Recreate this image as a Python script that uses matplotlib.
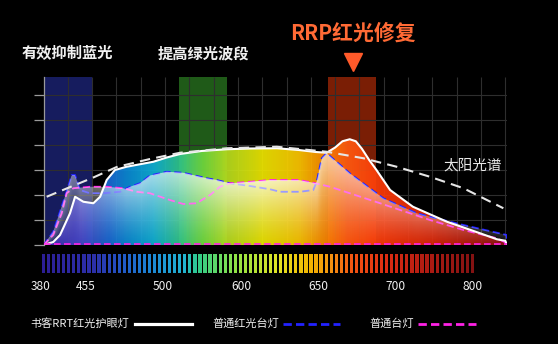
# spectrum comparison chart: RRT lamp vs normal lamps vs sunlight
import matplotlib
matplotlib.use('Agg')
import matplotlib.pyplot as plt
import numpy as np
from matplotlib.colors import LinearSegmentedColormap
from matplotlib.lines import Line2D

plt.rcParams['font.family'] = ['Noto Sans CJK SC', 'DejaVu Sans']

# data (x in grid units along the plot, y in grid units)
rrt_x = [0, 0.4, 0.68, 1.09, 1.3, 1.64, 2.05, 2.33, 2.6, 2.94, 3.42, 4.52, 5.07, 5.62,
         6.5, 7.54, 8.5, 9.6, 10.5, 11.2, 11.65, 12.0, 12.3, 12.6, 12.85, 13.1, 13.4,
         13.7, 14.26, 15.2, 16.6, 17.96, 18.65, 19.0, 19.07]
rrt_y = [0, 0.12, 0.4, 1.27, 1.93, 1.73, 1.67, 1.93, 2.6, 3.0, 3.13, 3.33, 3.5, 3.64,
         3.76, 3.83, 3.86, 3.87, 3.8, 3.72, 3.69, 3.9, 4.15, 4.23, 4.15, 3.85, 3.4,
         3.0, 2.2, 1.53, 0.93, 0.47, 0.23, 0.17, 0.0]

red_x = [0, 0.4, 0.88, 1.16, 1.3, 1.5, 1.91, 2.46, 3.15, 3.56, 3.97, 4.38, 5.07, 5.75,
         6.72, 7.13, 7.67, 8.5, 9.32, 9.73, 10.56, 11.1, 11.24, 11.45, 11.65, 12.6,
         13.98, 15.36, 15.9, 17.28, 19.06, 19.07]
red_y = [0, 0.53, 1.93, 2.8, 2.8, 2.2, 2.07, 2.07, 2.13, 2.33, 2.47, 2.78, 2.93, 2.89,
         2.67, 2.6, 2.47, 2.36, 2.23, 2.13, 2.13, 2.2, 2.53, 3.47, 3.67, 2.87,
         1.87, 1.27, 1.13, 0.8, 0.4, 0.0]

norm_x = [0, 0.4, 0.75, 0.95, 1.23, 1.91, 2.6, 3.28, 3.83, 4.38, 5.2, 5.75, 6.3, 6.85,
          7.26, 7.67, 8.5, 9.32, 10.5, 11.1, 11.79, 13.85, 15.9, 17.28, 18.65, 19.07]
norm_y = [0, 0.4, 1.27, 2.07, 2.27, 2.33, 2.33, 2.27, 2.13, 2.07, 1.8, 1.64, 1.67, 2.0,
          2.33, 2.47, 2.53, 2.6, 2.6, 2.49, 2.33, 1.67, 1.0, 0.6, 0.27, 0.07]

sun_x = [0.13, 0.95, 2.05, 3.01, 4.38, 5.62, 7.54, 9.6, 11.65, 13.16, 14.53, 15.9, 17.28, 18.92]
sun_y = [1.93, 2.26, 2.7, 3.12, 3.44, 3.69, 3.87, 3.93, 3.73, 3.47, 3.13, 2.73, 2.27, 1.47]

# highlighted bands (x start, x end)
bands = [(0, 2.0), (5.58, 7.54), (11.7, 13.67)]
band_colors = ['#161c5e', '#1f5a18', '#7a1e05']

tick_labels = ['380', '455', '500', '600', '650', '700', '800']
tick_pos = [0.0, 0.104, 0.281, 0.461, 0.638, 0.818, 0.995]
n_stripes = 86

legend_labels = ['书客RRT红光护眼灯', '普通红光台灯', '普通台灯']

XMAX, YMAX = 19.07, 6.72

fig = plt.figure(figsize=(5.58, 3.44), dpi=100, facecolor='black')
ax = fig.add_axes([43.5 / 558, 99 / 344, 463.5 / 558, 168 / 344])
ax.set_facecolor('black')
ax.set_xlim(0, XMAX)
ax.set_ylim(0, YMAX)

# bands
for (b0, b1), c in zip(bands, band_colors):
    ax.axvspan(b0, b1, color=c, zorder=0.5, lw=0)

# grid
ax.vlines(np.arange(1, 20), 0, YMAX, color='#2e2e2e', lw=0.8, zorder=1)
ax.hlines(np.arange(1, 7), 0, XMAX, color='#2e2e2e', lw=0.8, zorder=1)

# rainbow fill clipped to RRT curve
fill_cmap = LinearSegmentedColormap.from_list('fill', [
    (0.0, '#3a2aa8'), (1.5 / XMAX, '#4848c8'), (2.6 / XMAX, '#1a6ad8'),
    (3.5 / XMAX, '#0a90d8'), (4.5 / XMAX, '#10b4d8'), (5.5 / XMAX, '#30c890'),
    (6.5 / XMAX, '#70d840'), (7.5 / XMAX, '#b8e020'), (9.0 / XMAX, '#f0e800'),
    (10.5 / XMAX, '#ffc800'), (11.5 / XMAX, '#ff8c00'), (12.5 / XMAX, '#ff5a10'),
    (14.0 / XMAX, '#ff3a08'), (16.0 / XMAX, '#e02808'), (1.0, '#901010')])
poly = ax.fill(rrt_x, rrt_y, facecolor='none', edgecolor='none')[0]
grad = np.linspace(0, 1, 500).reshape(1, -1)
im = ax.imshow(grad, cmap=fill_cmap, extent=(0, XMAX, 0, YMAX), aspect='auto',
               origin='lower', alpha=0.92, zorder=2)
im.set_clip_path(poly)

# lamp curves
ax.plot(red_x, red_y, color='#2222ff', lw=1.3, dashes=(4, 2), zorder=3)
ax.plot(norm_x, norm_y, color='#ff22e6', lw=1.3, dashes=(4, 2), zorder=3)

# pale overlay under the lamp curves
xs = np.linspace(0, XMAX, 400)
ys = np.linspace(0, YMAX, 200)
env = np.maximum(np.interp(xs, red_x, red_y), np.interp(xs, norm_x, norm_y))
amax = np.interp(xs, [0, 2, 4, 9, 12, 15, 19.07], [0.42, 0.42, 0.6, 0.75, 0.6, 0.35, 0.18])
rel = np.clip(ys[:, None] / np.maximum(env[None, :], 1e-3), 0, 1)
rgba = np.ones((len(ys), len(xs), 4))
rgba[..., 3] = amax[None, :] * rel ** 1.3
env_poly = ax.fill(np.r_[xs, XMAX, 0], np.r_[env, 0, 0], facecolor='none', edgecolor='none')[0]
ov = ax.imshow(rgba, extent=(0, XMAX, 0, YMAX), aspect='auto', origin='lower', zorder=4)
ov.set_clip_path(env_poly)

# RRT line, sun line, baseline
ax.plot(rrt_x, rrt_y, color='white', lw=1.5, zorder=5)
ax.plot(sun_x, sun_y, color='#e6e6e6', lw=1.5, dashes=(5, 3), zorder=5)
ax.plot([0, XMAX], [0.04, 0.04], color='#ff22e6', lw=1.2, dashes=(4, 2), zorder=5)

# axes styling
for s in ['top', 'right', 'bottom']:
    ax.spines[s].set_visible(False)
ax.spines['left'].set_color('#9a9a9a')
ax.spines['left'].set_linewidth(0.9)
ax.set_xticks([])
ax.set_yticks(np.arange(0, 7))
ax.set_yticklabels([])
ax.tick_params(axis='y', length=7.5, width=0.9, color='#9a9a9a')

# spectrum stripe bar
bar_cmap = LinearSegmentedColormap.from_list('bar', [
    (0.0, '#2c1e96'), (0.12, '#2c30aa'), (0.18, '#2256c6'), (0.25, '#1c86d6'),
    (0.33, '#22b4d0'), (0.36, '#30cc88'), (0.45, '#94e444'), (0.55, '#e4e424'),
    (0.62, '#f4b400'), (0.667, '#f49410'), (0.72, '#f45412'), (0.8, '#dc2c12'),
    (0.9, '#ac1a12'), (1.0, '#841212')])
bax = fig.add_axes([41 / 558, 71 / 344, 434 / 558, 19 / 344])
bax.set_facecolor('black')
idx = np.arange(n_stripes)
bax.bar((idx + 0.5) / n_stripes, 1, width=0.64 / n_stripes,
        color=[bar_cmap(i / (n_stripes - 1)) for i in idx])
bax.set_xlim(0, 1)
bax.set_ylim(0, 1)
for s in bax.spines.values():
    s.set_visible(False)
bax.set_yticks([])
bax.set_xticks(tick_pos)
bax.set_xticklabels(tick_labels, color='#f0f0f0', fontsize=8.6)
bax.tick_params(axis='x', length=0, pad=5)

# annotations
fig.text(21.7 / 558, 1 - 53 / 344, '有效抑制蓝光', color='#f0f0f0', fontsize=11,
         fontweight='bold', va='center', ha='left')
fig.text(158 / 558, 1 - 53 / 344, '提高绿光波段', color='#f0f0f0', fontsize=11,
         fontweight='bold', va='center', ha='left')
fig.text(290 / 558, 1 - 33 / 344, 'RRP红光修复', color='#ff6a35', fontsize=15,
         fontweight='bold', va='center', ha='left')
fig.add_artist(Line2D([352.7 / 558], [1 - 62 / 344], marker='v', markersize=13,
                      color='#ff5a2a', lw=0))
fig.text(443 / 558, 1 - 166 / 344, '太阳光谱', color='#e8e8e8', fontsize=10.5,
         va='center', ha='left')

# legend
ly = 1 - 324 / 344
fig.text(30.7 / 558, ly, legend_labels[0], color='#f0f0f0', fontsize=8,
         va='center', ha='left')
fig.add_artist(Line2D([135 / 558, 191.7 / 558], [ly, ly], color='white', lw=2.3))
fig.text(212.7 / 558, ly, legend_labels[1], color='#f0f0f0', fontsize=8,
         va='center', ha='left')
fig.add_artist(Line2D([283 / 558, 340 / 558], [ly, ly], color='#2222ff', lw=2,
                      dashes=(3, 1.5)))
fig.text(369 / 558, ly, legend_labels[2], color='#f0f0f0', fontsize=8,
         va='center', ha='left')
fig.add_artist(Line2D([417.7 / 558, 476 / 558], [ly, ly], color='#ff22e6', lw=2,
                      dashes=(3, 1.5)))

fig.savefig('out.png', dpi=100, facecolor='black')
